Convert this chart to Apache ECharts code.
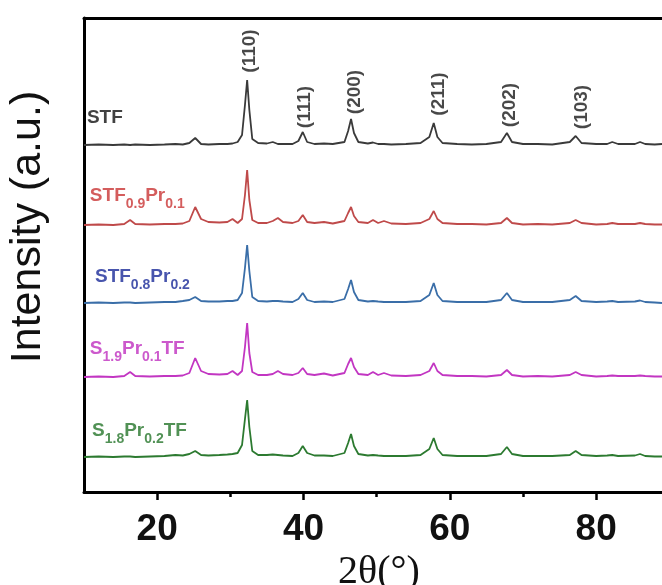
<!DOCTYPE html>
<html>
<head>
<meta charset="utf-8">
<script src="https://cdn.jsdelivr.net/npm/echarts@6/dist/echarts.min.js"></script>
<style>
html, body { margin: 0; padding: 0; background: #fff; }
#xrd { width: 662px; height: 585px; }
</style>
</head>
<body>
<div id="xrd"></div>
<script>
// 2theta positions (deg) shared by all patterns
var twoTheta = [10, 12, 14, 15.5, 16.3, 17, 19, 21, 22.5, 23.5,
    24.4, 25.2, 26, 27, 28.5, 29.6, 30.3, 31, 31.6, 32.0,
    32.3, 32.6, 33.0, 33.8, 35, 35.8, 36.5, 37.2, 38.5, 39.3,
    39.9, 40.5, 41.5, 42.8, 44, 45.6, 46.1, 46.5, 46.9, 47.5,
    48.8, 49.5, 50.2, 51, 52, 54, 56, 57.2, 57.8, 58.3,
    59, 61, 63, 65, 67, 67.8, 68.5, 70, 72, 74,
    76.4, 77.2, 78, 80, 81.5, 82.2, 83, 85.3, 86, 86.7,
    88, 89];

// intensities above each pattern's own baseline (a.u.)
var intSTF = [0, 0.5, 0, 0.5, 0, 0.5, 0, 0.5, 1, 0.5,
    2, 7, 1, 0.5, 1, 1, 1.5, 3, 10, 40,
    65, 35, 6, 2, 1.5, 3, 1, 1, 1, 4,
    13, 3, 1, 1.5, 1, 3, 14, 26, 12, 3,
    1.5, 2.5, 1, 1, 0.5, 1, 2, 8, 22, 8,
    2, 1, 0.5, 1, 3, 12, 3, 1, 1, 0.5,
    3, 9, 2, 1, 1, 3, 1, 1, 3, 1,
    0.5, 1];
var intSTFPr1 = [0, 0.5, 0, 1, 5, 1, 0.5, 1, 1, 1.5,
    4, 18, 6, 3, 2.5, 3, 6, 2, 6, 30,
    55, 25, 5, 2, 2, 4, 7, 3, 2, 4,
    10, 3, 2, 3, 1.5, 4, 12, 18, 9, 3,
    2, 5, 2, 4, 1.5, 1, 2, 6, 14, 6,
    2, 1, 1, 0.5, 2, 7, 2, 0.5, 1, 0.5,
    2, 5, 2, 0.5, 1, 2, 1, 1, 2, 1,
    0.5, 0.5];
var intSTFPr2 = [0, 0.5, 0, 0.5, 0.5, 0, 0.5, 1, 1, 2,
    3, 6, 2, 1.5, 1.5, 2, 2, 3, 10, 35,
    58, 32, 6, 2, 1.5, 2, 2, 1.5, 1, 4,
    10, 3, 1, 1.5, 1, 4, 14, 23, 11, 3,
    1.5, 2, 1.5, 1, 1, 1, 2, 8, 20, 8,
    2, 1, 1, 1, 3, 10, 3, 1, 1, 1,
    3, 7, 2, 1, 1.5, 2, 1, 1.5, 2.5, 1,
    0.5, 0];
var intSPr1TF = [0, 0.5, 0, 1, 5, 1, 0.5, 1, 1, 1.5,
    4, 19, 6, 3, 2.5, 3, 6, 2, 6, 30,
    54, 24, 5, 2, 2, 3, 6, 3, 2, 4,
    9, 3, 2, 3.5, 1.5, 4, 13, 19, 10, 3,
    2, 5, 2, 4, 1.5, 1, 2, 6, 14, 6,
    2, 1, 1, 0.5, 2, 7, 2, 0.5, 1, 0.5,
    2, 5, 2, 0.5, 1, 1.5, 1, 1, 1.5, 1,
    0.5, 0.5];
var intSPr2TF = [0, 0.5, 0, 0.5, 0.5, 0, 0.5, 1, 2, 1.5,
    3, 6, 2, 1.5, 2, 2.5, 3, 4, 12, 38,
    57, 30, 6, 2, 2, 2.5, 2, 1.5, 1, 4,
    11, 4, 1.5, 1.5, 1, 4, 14, 23, 11, 3,
    1.5, 2, 1.5, 1, 1, 1, 2, 8, 19, 8,
    2, 1, 1, 1, 3, 10, 3, 1, 1, 1,
    2, 6, 2, 1, 1.5, 2, 1, 1.5, 3, 1,
    0.5, 0.5];

// vertical stacking offset of each pattern
var offsets = [347, 267, 189, 115, 35];
var lineColors = ['#3a3a3a', '#bf4a4a', '#3a6ea8', '#c236c2', '#2c7a30'];
var labelColors = ['#111111', '#c93535', '#1a2a98', '#bf2fbf', '#26752a'];

// sample names (rich text: m = normal, s = subscript)
var sampleLabels = ['{m|STF}',
    '{m|STF}{s|0.9}{m|Pr}{s|0.1}',
    '{m|STF}{s|0.8}{m|Pr}{s|0.2}',
    '{m|S}{s|1.9}{m|Pr}{s|0.1}{m|TF}',
    '{m|S}{s|1.8}{m|Pr}{s|0.2}{m|TF}'];
var labelX = [10.4, 10.8, 11.5, 10.8, 11.1];
var labelY = [374, 296, 215, 143, 61];

// reflections
var hklText = ['(110)', '(111)', '(200)', '(211)', '(202)', '(103)'];
var hklX = [32.6, 40.2, 47.0, 58.5, 68.2, 78.0];
var hklY = [441, 385, 400, 398, 387, 385];

var xTicks = [20, 40, 60, 80];
var xMinorTicks = [30, 50, 70];

var patterns = [intSTF, intSTFPr1, intSTFPr2, intSPr1TF, intSPr2TF];

var chart = echarts.init(document.getElementById('xrd'));

var series = [];
for (var k = 0; k < patterns.length; k++) {
    var pts = [];
    for (var j = 0; j < twoTheta.length; j++) {
        pts.push([twoTheta[j], offsets[k] + patterns[k][j]]);
    }
    series.push({
        type: 'line',
        data: pts,
        showSymbol: false,
        silent: true,
        lineStyle: { color: lineColors[k], width: 1.8 },
        z: 3
    });
}

var nameData = [];
for (var k = 0; k < sampleLabels.length; k++) {
    nameData.push({
        value: [labelX[k], labelY[k]],
        label: { formatter: sampleLabels[k], color: labelColors[k] }
    });
}
series.push({
    type: 'scatter',
    symbolSize: 0,
    silent: true,
    data: nameData,
    label: {
        show: true,
        position: 'inside',
        align: 'left',
        verticalAlign: 'middle',
        rich: {
            m: { fontSize: 19, fontWeight: 'bold', fontFamily: 'Arial', lineHeight: 30 },
            s: { fontSize: 14, fontWeight: 'bold', fontFamily: 'Arial', lineHeight: 14, verticalAlign: 'bottom' }
        }
    },
    z: 5
});

var hklData = [];
for (var h = 0; h < hklText.length; h++) {
    hklData.push({ value: [hklX[h], hklY[h]], name: hklText[h] });
}
series.push({
    type: 'scatter',
    symbolSize: 0,
    silent: true,
    data: hklData,
    label: {
        show: true,
        position: 'inside',
        rotate: 90,
        formatter: '{b}',
        fontSize: 19,
        fontWeight: 'bold',
        fontFamily: 'Arial',
        color: '#1a1a1a'
    },
    z: 5
});

var option = {
    animation: false,
    backgroundColor: '#fff',
    grid: { left: 84, right: 0, top: 18, bottom: 93, outerBoundsMode: 'none' },
    xAxis: [{
        type: 'value',
        position: 'bottom',
        min: 10,
        max: 89,
        name: '2θ(°)',
        nameLocation: 'middle',
        nameGap: 45,
        nameTextStyle: { fontSize: 40, fontFamily: 'Times New Roman', color: '#111', padding: [0, 0, 0, 12] },
        axisLine: { lineStyle: { color: '#000', width: 3 } },
        axisTick: { customValues: xTicks, length: 8, lineStyle: { color: '#000', width: 2.5 } },
        axisLabel: { customValues: xTicks, fontSize: 37, fontWeight: 'bold', fontFamily: 'Arial', color: '#111', margin: 19 },
        splitLine: { show: false }
    }, {
        type: 'value',
        position: 'top',
        min: 10,
        max: 89,
        axisLine: { lineStyle: { color: '#000', width: 3 } },
        axisTick: { show: false },
        axisLabel: { show: false },
        splitLine: { show: false }
    }, {
        type: 'value',
        position: 'bottom',
        min: 10,
        max: 89,
        axisLine: { show: false },
        axisTick: { customValues: xMinorTicks, length: 5, lineStyle: { color: '#000', width: 2.5 } },
        axisLabel: { show: false },
        splitLine: { show: false }
    }],
    yAxis: {
        type: 'value',
        min: 0,
        max: 474,
        name: 'Intensity (a.u.)',
        nameLocation: 'middle',
        nameGap: 34,
        nameTextStyle: { fontSize: 43, fontFamily: 'Arial', color: '#111', padding: [0, 0, 0, 56] },
        axisLine: { show: true, lineStyle: { color: '#000', width: 3 } },
        axisTick: { show: false },
        axisLabel: { show: false },
        splitLine: { show: false }
    },
    series: series
};

chart.setOption(option);
</script>
</body>
</html>
